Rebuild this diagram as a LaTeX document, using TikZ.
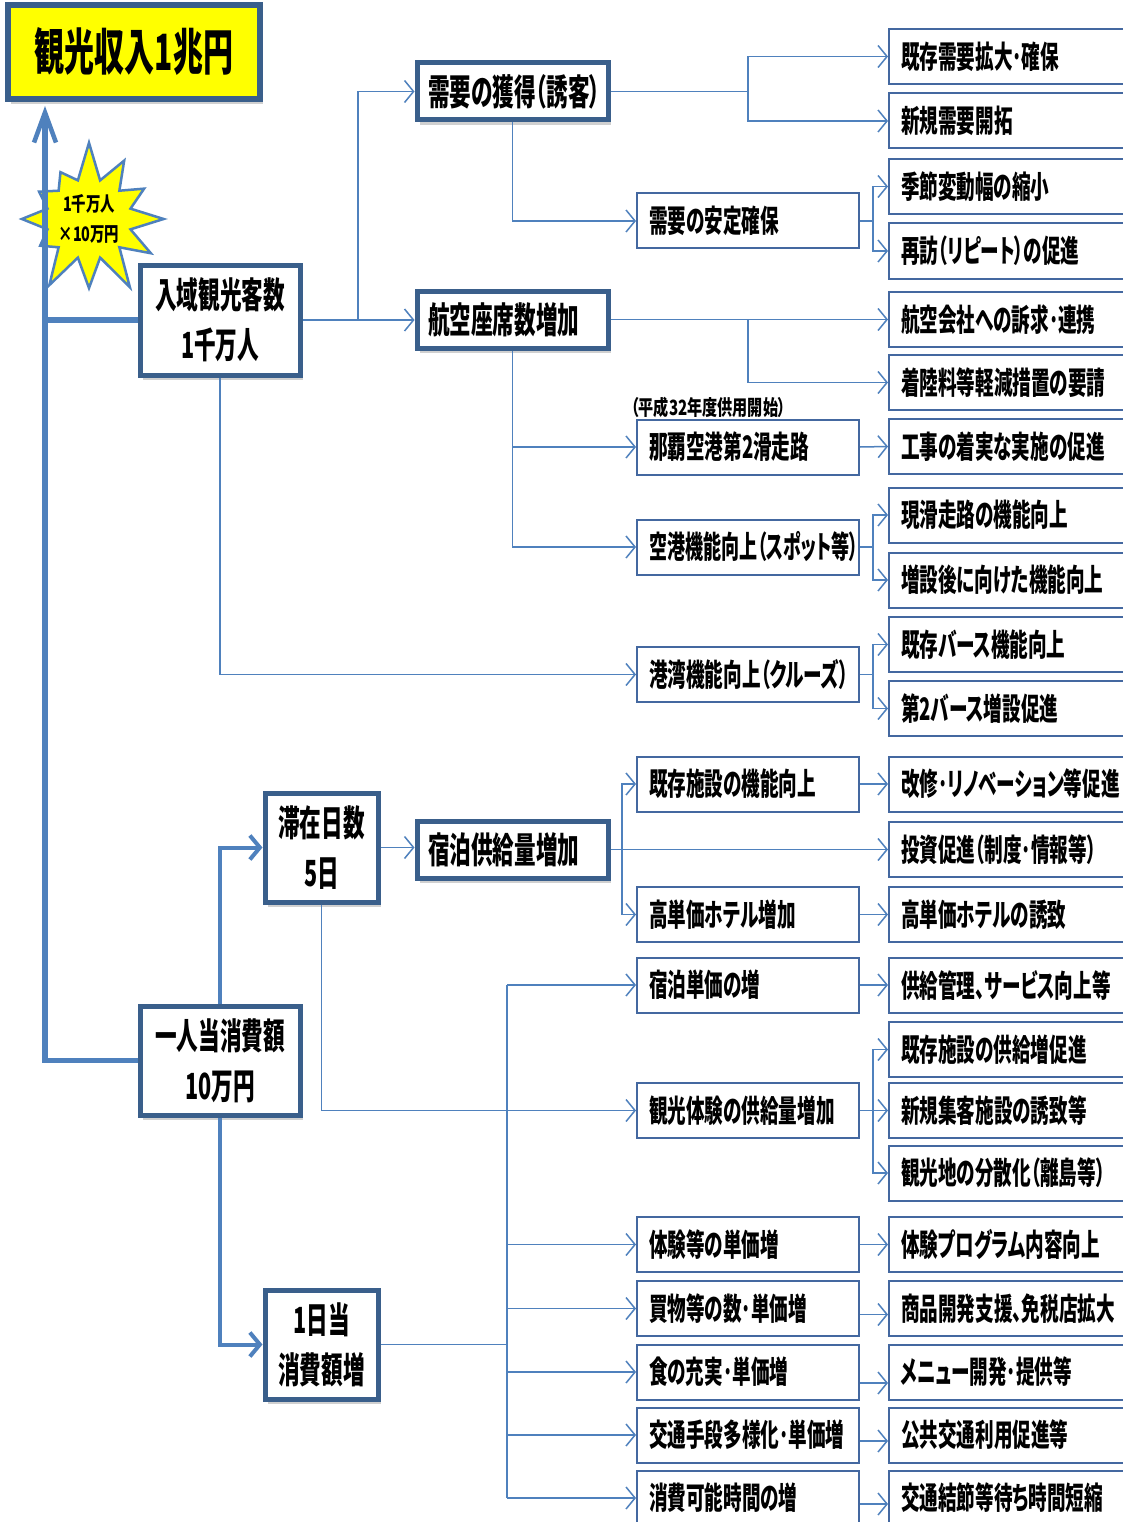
\documentclass[tikz,border=0pt]{standalone}
\usepackage{fontspec}
\setmainfont{Noto Sans CJK JP}[FakeStretch=0.6, RawFeature=+palt]
\newfontfamily\jpw{Noto Sans CJK JP}[FakeStretch=0.72, RawFeature=+palt]
\usetikzlibrary{arrows.meta,shapes.symbols,shadows,calc}
\definecolor{conn}{HTML}{4F81BD}
\definecolor{bord}{HTML}{3A5F8B}
\definecolor{tbord}{HTML}{4468A0}
\definecolor{yel}{HTML}{FFFF00}
\newcommand{\lbx}[2]{\makebox[#1][l]{#2}}
\tikzset{
  thbox/.style={draw=bord, line width=5pt, fill=white, inner sep=0pt, align=center,
    drop shadow={shadow xshift=3pt, shadow yshift=-5pt, opacity=0.3, fill=black!60},
    font=\fontsize{36}{50}\selectfont\bfseries},
  cbox/.style={draw=tbord, line width=2pt, fill=white, anchor=west, inner xsep=12pt, inner ysep=0pt,
    minimum width=222pt, minimum height=55pt, font=\fontsize{31}{36}\selectfont\bfseries},
  dbox/.style={draw=tbord, line width=2pt, fill=white, anchor=west, inner xsep=12pt, inner ysep=0pt,
    minimum width=250pt, minimum height=55pt, font=\fontsize{31}{36}\selectfont\bfseries},
  con/.style={draw=conn, line width=1.5pt, -{Straight Barb[length=9pt,width=22pt]}},
  conl/.style={draw=conn, line width=1.5pt},
  thk/.style={draw=conn, line width=4pt, -{Straight Barb[length=10pt,width=24pt]}},
  thkl/.style={draw=conn, line width=5.5pt},
}
\begin{document}
\begin{tikzpicture}[x=1pt,y=-1pt]
\useasboundingbox (0,0) rectangle (1122,1522);
\fill[white] (0,0) rectangle (1122,1522);

% title
\node[draw=bord, line width=6pt, fill=yel, minimum width=252pt, minimum height=94pt, inner sep=0pt,
  drop shadow={shadow xshift=3pt, shadow yshift=-5pt, opacity=0.3, fill=black!60},
  font=\fontsize{50}{55}\selectfont\bfseries] (T) at (134,52) {観光収入1兆円};

% thick boxes
\node[thbox, minimum width=160pt, minimum height=110pt] (A) at (220,320) {入域観光客数\\1千万人};
\node[thbox, minimum width=191pt, minimum height=57pt, inner xsep=11pt] (B) at (512.5,91.5) {\lbx{169pt}{需要の獲得（誘客）}};
\node[thbox, minimum width=191pt, minimum height=57pt, inner xsep=11pt] (C) at (512.5,319.5) {\lbx{169pt}{航空座席数増加}};
\node[thbox, minimum width=113pt, minimum height=109pt] (D) at (321.5,847.5) {滞在日数\\5日};
\node[thbox, minimum width=191pt, minimum height=57pt, inner xsep=11pt] (E) at (512.5,849.5) {\lbx{169pt}{宿泊供給量増加}};
\node[thbox, minimum width=160pt, minimum height=109pt] (F) at (220,1060.5) {一人当消費額\\10万円};
\node[thbox, minimum width=113pt, minimum height=109pt] (G) at (321.5,1344.5) {1日当\\消費額増};

% starburst
\node[starburst, starburst points=12, starburst point height=40pt, random starburst=7,
  draw=conn, line width=2.5pt, fill=yel, minimum width=128pt, minimum height=160pt, inner sep=0pt,
  align=center, font=\jpw\fontsize{20}{30}\selectfont\bfseries] (S) at (89,219) {1千万人\\×10万円};

% column 3
\node[cbox] (d1) at (636,221) {\lbx{198pt}{需要の安定確保}};
\node[cbox] (c2) at (636,447) {\lbx{198pt}{那覇空港第2滑走路}};
\node[cbox] (c3) at (636,547) {\lbx{198pt}{\scalebox{0.97}[1]{空港機能向上（スポット等）}}};
\node[cbox] (c4) at (636,674.5) {\lbx{198pt}{港湾機能向上（クルーズ）}};
\node[cbox] (c5) at (636,784) {\lbx{198pt}{既存施設の機能向上}};
\node[cbox] (c6) at (636,914.5) {\lbx{198pt}{高単価ホテル増加}};
\node[cbox] (c7) at (636,985) {\lbx{198pt}{宿泊単価の増}};
\node[cbox] (c8) at (636,1110.5) {\lbx{198pt}{観光体験の供給量増加}};
\node[cbox] (c9) at (636,1244.5) {\lbx{198pt}{体験等の単価増}};
\node[cbox] (c10) at (636,1308.5) {\lbx{198pt}{買物等の数･単価増}};
\node[cbox] (c11) at (636,1372) {\lbx{198pt}{食の充実･単価増}};
\node[cbox] (c12) at (636,1435) {\lbx{198pt}{交通手段多様化･単価増}};
\node[cbox] (c13) at (636,1498) {\lbx{198pt}{消費可能時間の増}};

\node[anchor=west, inner sep=0pt, font=\jpw\fontsize{21}{24}\selectfont\bfseries] (L) at (631,407) {（平成32年度供用開始）};

% column 4
\node[dbox] (e1) at (888,56.5) {\lbx{226pt}{既存需要拡大･確保}};
\node[dbox] (e2) at (888,121) {\lbx{226pt}{新規需要開拓}};
\node[dbox] (e3) at (888,186.5) {\lbx{226pt}{季節変動幅の縮小}};
\node[dbox] (e4) at (888,251) {\lbx{226pt}{再訪（リピート）の促進}};
\node[dbox] (e5) at (888,319.5) {\lbx{226pt}{航空会社への訴求･連携}};
\node[dbox] (e6) at (888,382.5) {\lbx{226pt}{着陸料等軽減措置の要請}};
\node[dbox] (e7) at (888,446.5) {\lbx{226pt}{工事の着実な実施の促進}};
\node[dbox] (e8) at (888,515) {\lbx{226pt}{現滑走路の機能向上}};
\node[dbox] (e9) at (888,580) {\lbx{226pt}{増設後に向けた機能向上}};
\node[dbox] (e10) at (888,644.5) {\lbx{226pt}{既存バース機能向上}};
\node[dbox] (e11) at (888,708.5) {\lbx{226pt}{第2バース増設促進}};
\node[dbox] (e12) at (888,784) {\lbx{226pt}{改修･リノベーション等促進}};
\node[dbox] (e13) at (888,849.5) {\lbx{226pt}{投資促進（制度･情報等）}};
\node[dbox] (e14) at (888,914.5) {\lbx{226pt}{高単価ホテルの誘致}};
\node[dbox] (e15) at (888,985) {\lbx{226pt}{供給管理、サービス向上等}};
\node[dbox] (e16) at (888,1049.5) {\lbx{226pt}{既存施設の供給増促進}};
\node[dbox] (e17) at (888,1110.5) {\lbx{226pt}{新規集客施設の誘致等}};
\node[dbox] (e18) at (888,1173) {\lbx{226pt}{観光地の分散化（離島等）}};
\node[dbox] (e19) at (888,1244.5) {\lbx{226pt}{体験プログラム内容向上}};
\node[dbox] (e20) at (888,1308.5) {\lbx{226pt}{商品開発支援、免税店拡大}};
\node[dbox] (e21) at (888,1372) {\lbx{226pt}{メニュー開発･提供等}};
\node[dbox] (e22) at (888,1435) {\lbx{226pt}{公共交通利用促進等}};
\node[dbox] (e23) at (888,1498) {\lbx{226pt}{交通結節等待ち時間短縮}};

% junction coordinates
\coordinate (up) at (45,106);
\coordinate (j1) at (358,320);
\coordinate (j2) at (748,91.5);
\coordinate (j3) at (873,221);
\coordinate (j4) at (748,319.5);
\coordinate (j5) at (873,547);
\coordinate (j6) at (873,674.5);
\coordinate (j7) at (622,849.5);
\coordinate (j8) at (507,1344.5);
\coordinate (j9) at (873,1110.5);

% main thick connectors
\draw[thkl] (A.west) -- (A.west -| up);
\draw[thkl, -{Straight Barb[length=30pt,width=22pt,line width=4.5pt]}] (F.west) -| (up);
\draw[thk] (F.north) |- (D.west);
\draw[thk] (F.south) |- (G.west);

% thin connectors
\draw[con] (A.east) -- (A.east -| C.west);
\draw[con] (j1) |- (B.west);
\draw[con] (A.south) |- (c4.west);
\draw[conl] (B.east) -- (j2);
\draw[con] (j2) |- (e1.west);
\draw[con] (j2) |- (e2.west);
\draw[con] (B.south) |- (d1.west);
\draw[conl] (d1.east) -- (j3);
\draw[con] (j3) |- (e3.west);
\draw[con] (j3) |- (e4.west);
\draw[con] (C.east) -- (e5.west);
\draw[con] (j4) |- (e6.west);
\draw[con] (C.south) |- (c2.west);
\draw[con] (C.south) |- (c3.west);
\draw[con] (c2.east) -- (e7.west);
\draw[conl] (c3.east) -- (j5);
\draw[con] (j5) |- (e8.west);
\draw[con] (j5) |- (e9.west);
\draw[conl] (c4.east) -- (j6);
\draw[con] (j6) |- (e10.west);
\draw[con] (j6) |- (e11.west);
\draw[con] (D.east) -- (D.east -| E.west);
\draw[con] (D.south) |- (c8.west);
\draw[con] (E.east) -- (e13.west);
\draw[con] (j7) |- (c5.west);
\draw[con] (j7) |- (c6.west);
\draw[con] (c5.east) -- (e12.west);
\draw[con] (c6.east) -- (e14.west);
\draw[conl] (G.east) -- (j8);
\draw[conl] (j8 |- c7.west) -- (j8 |- c13.west);
\draw[con] (j8 |- c7.west) -- (c7.west);
\draw[con] (j8 |- c9.west) -- (c9.west);
\draw[con] (j8 |- c10.west) -- (c10.west);
\draw[con] (j8 |- c11.west) -- (c11.west);
\draw[con] (j8 |- c12.west) -- (c12.west);
\draw[con] (j8 |- c13.west) -- (c13.west);
\draw[con] (c7.east) -- (e15.west);
\draw[conl] (c8.east) -- (j9);
\draw[con] (j9) |- (e16.west);
\draw[con] (j9) -- (e17.west);
\draw[con] (j9) |- (e18.west);
\draw[con] (c9.east) -- (e19.west);
\draw[con] ([yshift=-6pt]c10.east) -- ([yshift=-6pt]c10.east -| e20.west);
\draw[con] ([yshift=-11pt]c11.east) -- ([yshift=-11pt]c11.east -| e21.west);
\draw[con] ([yshift=-6pt]c12.east) -- ([yshift=-6pt]c12.east -| e22.west);
\draw[con] ([yshift=-6pt]c13.east) -- ([yshift=-6pt]c13.east -| e23.west);
\end{tikzpicture}
\end{document}
